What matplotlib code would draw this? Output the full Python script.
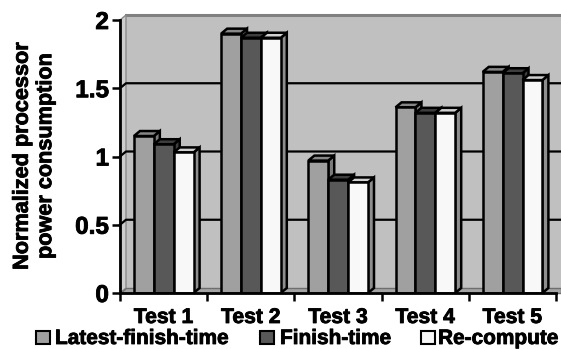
import numpy as np
import matplotlib.pyplot as plt
import matplotlib.patheffects as pe
from matplotlib.patches import Polygon, Rectangle

plt.rcParams['font.family'] = ['Liberation Sans', 'DejaVu Sans']
plt.rcParams['font.weight'] = 'bold'

tests = ['Test 1', 'Test 2', 'Test 3', 'Test 4', 'Test 5']
series = ['Latest-finish-time', 'Finish-time', 'Re-compute']
latest_finish = [1.15, 1.90, 0.97, 1.36, 1.62]
finish = [1.09, 1.87, 0.83, 1.32, 1.61]
recompute = [1.03, 1.87, 0.81, 1.32, 1.56]
yticks = [0, 0.5, 1, 1.5, 2]
ytick_labels = ['0', '0.5', '1', '1.5', '2']

front_cols = ['#a0a0a0', '#585858', '#f8f8f8']
top_cols = ['#878787', '#3e3e3e', '#d0d0d0']
side_cols = ['#7c7c7c', '#3e3e3e', '#8e8e8e']

# slightly heavier strokes on all the bold text
heavy = [pe.withStroke(linewidth=0.6, foreground='black')]

W, H = 561, 349
fig = plt.figure(figsize=(W / 100, H / 100), dpi=100)
ax = fig.add_axes([120 / W, 56 / H, 436 / W, 273 / H])
ax.set_xlim(0, 5)
ax.set_ylim(0, 2)

# depth offset of the 3d look, in data units
sx = 436 / 5.0
sy = 273 / 2.0
ddx = 6 / sx
ddy = 5 / sy
xend = (W - 120) / sx

# back wall, side wall and floor
ax.add_patch(Rectangle((ddx, ddy), xend - ddx, 2, facecolor='#c0c0c0',
                       edgecolor='none', zorder=0, clip_on=False))
ax.plot([ddx, xend], [2 + ddy, 2 + ddy], color='#808080', lw=2.2,
        zorder=1, clip_on=False)
ax.add_patch(Polygon([(0, 0), (ddx, ddy), (ddx, 2 + ddy), (0, 2)],
                     closed=True, facecolor='#cdcdcd', edgecolor='#8a8a8a',
                     lw=1.0, zorder=1, clip_on=False))
ax.add_patch(Polygon([(0, 0), (xend, 0), (xend, ddy), (ddx, ddy)],
                     closed=True, facecolor='#a4a4a4', edgecolor='#6e6e6e',
                     lw=1.0, zorder=1, clip_on=False))
for v in yticks[1:-1]:
    ax.plot([0, ddx, xend], [v, v + ddy, v + ddy], color='black', lw=1.6,
            zorder=2, clip_on=False)

# bars, drawn left to right so each one hides the side of the previous
offset = 0.16
w = 0.228
z = 3
for i in range(len(tests)):
    vals = [latest_finish[i], finish[i], recompute[i]]
    for j, v in enumerate(vals):
        x = i + offset + j * w
        ax.add_patch(Polygon([(x + w, 0), (x + w + ddx, ddy),
                              (x + w + ddx, v + ddy), (x + w, v)],
                             closed=True, facecolor=side_cols[j],
                             edgecolor='black', lw=1.8, zorder=z,
                             joinstyle='miter'))
        ax.add_patch(Polygon([(x, v), (x + ddx, v + ddy),
                              (x + w + ddx, v + ddy), (x + w, v)],
                             closed=True, facecolor=top_cols[j],
                             edgecolor='black', lw=1.8, zorder=z,
                             joinstyle='miter'))
        ax.add_patch(Rectangle((x, 0), w, v, facecolor=front_cols[j],
                               edgecolor='black', lw=1.8, zorder=z + 1,
                               joinstyle='miter'))
        z += 2

for s in ['top', 'right']:
    ax.spines[s].set_visible(False)
for s in ['left', 'bottom']:
    ax.spines[s].set_linewidth(2)
    ax.spines[s].set_zorder(100)

ax.set_yticks(yticks)
ax.set_yticklabels(ytick_labels, fontsize=17.5, fontweight='bold')
for lab in ax.get_yticklabels():
    lab.set_path_effects(heavy)
ax.set_xticks(range(6))
ax.set_xticklabels([])
ax.tick_params(axis='y', length=6, width=1.8, pad=2)
ax.tick_params(axis='x', length=6, width=1.8, direction='out')

# category names
for i, t in enumerate(tests):
    fig.text((120 + (i + 0.5) * sx) / W, 1 - 323 / H, t, ha='center',
             va='baseline', fontsize=15.2, fontweight='bold',
             path_effects=heavy)

fig.text(34 / W, 1 - 156 / H, 'Normalized processor\npower consumption',
         rotation=90, ha='center', va='center', fontsize=15.6,
         fontweight='bold', linespacing=1.15, path_effects=heavy)

# legend row
leg_box = [36, 260, 421]
leg_txt = [55, 280, 438]
for j, name in enumerate(series):
    fig.patches.append(Rectangle((leg_box[j] / W, 1 - 344 / H), 14 / W, 13 / H,
                                 transform=fig.transFigure,
                                 facecolor=front_cols[j], edgecolor='black',
                                 lw=1.5))
    fig.text(leg_txt[j] / W, 1 - 344 / H, name, ha='left', va='baseline',
             fontsize=15, fontweight='bold', path_effects=heavy)

fig.savefig('out.png', dpi=100)
